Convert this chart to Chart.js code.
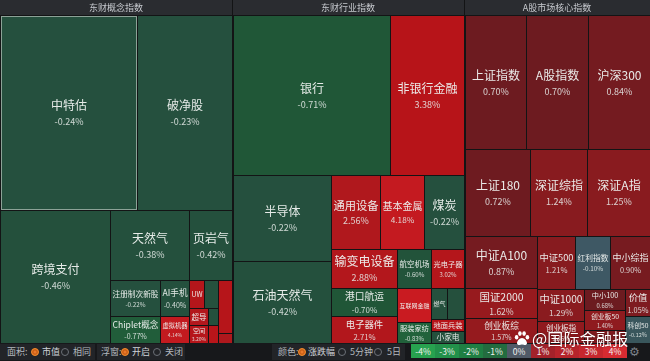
<!DOCTYPE html>
<html><head><meta charset="utf-8">
<script src="https://cdn.jsdelivr.net/npm/chart.js@4/dist/chart.umd.min.js"></script>
<style>
html,body{margin:0;padding:0;background:#141516;width:650px;height:361px;overflow:hidden;font-family:"Noto Sans CJK SC","Noto Sans",sans-serif;}
#wrap{position:absolute;left:0;top:0;width:650px;height:343px;}
#bar{position:absolute;left:0;top:343px;width:650px;height:18px;background:#17181b;}
.box{position:absolute;top:1px;height:16px;background:#222428;}
.t{position:absolute;top:0;line-height:18px;font-size:9px;color:#b3b8be;white-space:nowrap;}
.r{position:absolute;top:5px;width:6px;height:6px;border-radius:50%;border:1px solid #6b7077;box-sizing:content-box;}
.r.on{border:1px solid #f08a2c;background:#e9782a;box-shadow:inset 0 0 0 1.5px #c95f17;}
#legend{position:absolute;top:1px;height:14px;display:flex;}
#legend span{display:block;width:24px;height:14px;line-height:14px;text-align:center;font-size:8.5px;color:#f2f2f2;}
.gear{position:absolute;left:629px;top:0;line-height:18px;font-size:12px;color:#7d8289;font-family:"DejaVu Sans",sans-serif;}
#wm{position:absolute;left:514px;top:328px;height:20px;display:flex;align-items:center;pointer-events:none;}
#wm span{font-size:16px;line-height:20px;color:#ffffff;margin-left:2px;text-shadow:0 0 2px rgba(0,0,0,0.55);letter-spacing:0.2px;}
</style></head>
<body>
<div id="wrap"><canvas id="c" width="650" height="343"></canvas></div>
<div id="bar">
 <div class="box" style="left:0;width:95px"></div>
 <div class="box" style="left:97px;width:88px"></div>
 <div class="box" style="left:272px;width:133px"></div>
 <span class="t" style="left:7px">面积:</span>
 <i class="r on" style="left:31px"></i><span class="t" style="left:42px;color:#cfd3d8">市值</span>
 <i class="r" style="left:61px"></i><span class="t" style="left:73px">相同</span>
 <span class="t" style="left:101px">浮窗:</span>
 <i class="r on" style="left:121px"></i><span class="t" style="left:132px;color:#cfd3d8">开启</span>
 <i class="r" style="left:153px"></i><span class="t" style="left:165px">关闭</span>
 <span class="t" style="left:278px">颜色:</span>
 <i class="r on" style="left:298px"></i><span class="t" style="left:308px;color:#cfd3d8">涨跌幅</span>
 <i class="r" style="left:338px"></i><span class="t" style="left:350px">5分钟</span>
 <i class="r" style="left:374px"></i><span class="t" style="left:387px">5日</span>
 <div id="legend" style="left:411px"></div>
 <span class="gear">⚙</span>
</div>
<div id="wm">
 <svg width="16" height="15" viewBox="0 0 16 15"><g fill="#fff"><ellipse cx="2.6" cy="6.2" rx="1.8" ry="2.2"/><ellipse cx="5.9" cy="2.6" rx="1.8" ry="2.3"/><ellipse cx="10.1" cy="2.6" rx="1.8" ry="2.3"/><ellipse cx="13.4" cy="6.2" rx="1.8" ry="2.2"/><path d="M8 7c-2.5 0-5 3-5 5 0 1.8 1.6 2.3 2.8 2 1-.3 1.4-.5 2.2-.5s1.2.2 2.2.5c1.2.3 2.8-.2 2.8-2 0-2-2.5-5-5-5z"/></g></svg>
 <span>@国际金融报</span>
</div>
<script>
// ---------- data ----------
const panelTitles = ['东财概念指数', '东财行业指数', 'A股市场核心指数'];

const names = [
  '中特估','破净股','跨境支付','天然气','页岩气','注册制次新股','Chiplet概念','AI手机','虚拟机器',
  'UW','','超导','','空间','','','',
  '银行','非银行金融','半导体','石油天然气','通用设备','基本金属','煤炭','输变电设备','港口航运','电子器件',
  '航空机场','互联网金融','服装家纺','光电子器','燃气','','地面兵装','小家电',
  '上证指数','A股指数','沪深300','上证180','深证综指','深证A指','中证A100','国证2000','创业板综',
  '中证500','红利指数','中小综指','中证1000','创业板指','中小100','创业板50','','价值','科创50'
];

const changes = [
  -0.24,-0.23,-0.46,-0.38,-0.42,-0.22,-0.77,-0.40,4.14,
  3.00,-0.35,2.80,-0.30,3.20,3.50,3.30,2.50,
  -0.71,3.38,-0.22,-0.42,2.56,4.18,-0.22,2.88,-0.70,2.71,
  -0.60,4.62,-0.83,3.02,-0.35,-0.30,3.40,-0.50,
  0.70,0.70,0.84,0.72,1.24,1.25,0.87,1.62,1.57,
  1.21,-0.10,0.90,1.29,1.45,0.68,1.40,1.10,1.05,-0.12
];

// area weights (market value)
const caps = [
  26715,18525,14630,5530,3010,1800,1350,1044,783,
  420,392,323,170,342,180,742,140,
  25120,11840,8428,8036,3626,3256,2960,2574,1848,1782,
  1326,1156,714,1287,496,527,396,396,
  8308,8308,8308,5742,4959,5481,3796,2190,1825,
  2014,1855,2120,1504,1034,861,820,533,675,675
];

// nesting of each cell (group indices, last = position in its group)
const paths = [
  '0.0.0','0.0.1','0.1.0','0.1.1.0.0','0.1.1.0.1','0.1.1.1.0.0','0.1.1.1.0.1','0.1.1.1.1.0','0.1.1.1.1.1',
  '0.1.1.1.2.0.0','0.1.1.1.2.0.1','0.1.1.1.2.1.0','0.1.1.1.2.1.1','0.1.1.1.2.2.0','0.1.1.1.2.2.1','0.1.1.1.3.0','0.1.1.1.3.1',
  '1.0.0','1.0.1','1.1.0.0','1.1.0.1','1.1.1.0.0','1.1.1.0.1','1.1.1.0.2','1.1.1.1.0.0','1.1.1.1.0.1','1.1.1.1.0.2',
  '1.1.1.1.1.0','1.1.1.1.1.1','1.1.1.1.1.2','1.1.1.1.2.0','1.1.1.1.2.1.0','1.1.1.1.2.1.1','1.1.1.1.2.2','1.1.1.1.2.3',
  '2.0.0','2.0.1','2.0.2','2.1.0','2.1.1','2.1.2','2.2.0.0','2.2.0.1','2.2.0.2',
  '2.2.1.0.0','2.2.1.0.1','2.2.1.0.2','2.2.1.1.0.0','2.2.1.1.0.1','2.2.1.1.1.0','2.2.1.1.1.1','2.2.1.1.1.2','2.2.1.1.2.0','2.2.1.1.2.1'
];

const legendLabels = ['-4%','-3%','-2%','-1%','0%','1%','2%','3%','4%'];
const legendColors = ['#27a24f','#22914a','#1f7f43','#236c3f','#505a67','#a3222a','#b6242b','#c6272e','#d72b31'];
const hoverIndex = 0;

// ---------- legend ----------
const lg = document.getElementById('legend');
legendLabels.forEach((l, i) => {
  const s = document.createElement('span');
  s.textContent = l; s.style.background = legendColors[i];
  lg.appendChild(s);
});

// ---------- colours ----------
const stops = [
  [-5,[38,165,80]],[-2,[30,128,66]],[-1,[33,106,62]],[-0.8,[33,96,59]],[-0.7,[32,86,55]],
  [-0.5,[36,80,60]],[-0.2,[37,80,62]],[-0.1,[62,88,100]],[0,[68,76,86]],
  [0.5,[100,28,33]],[0.7,[109,27,32]],[0.87,[117,27,32]],[1.25,[137,27,31]],[1.6,[150,26,30]],
  [2.6,[177,24,29]],[3.4,[183,20,25]],[4.2,[196,26,32]],[5,[205,28,34]]
];
function colorFor(v){
  if (v <= stops[0][0]) return 'rgb(' + stops[0][1].join(',') + ')';
  for (let k = 1; k < stops.length; k++){
    if (v <= stops[k][0]){
      const [a, ca] = stops[k-1], [b, cb] = stops[k];
      const t = (v - a) / (b - a);
      return 'rgb(' + ca.map((c, j) => Math.round(c + (cb[j] - c) * t)).join(',') + ')';
    }
  }
  return 'rgb(' + stops[stops.length-1][1].join(',') + ')';
}

// ---------- treemap layout (slice and dice by nesting) ----------
function buildTree(){
  const root = {kids: []};
  paths.forEach((p, i) => {
    const parts = p.split('.').map(Number);
    let node = root;
    for (let d = 0; d < parts.length - 1; d++){
      const k = parts[d];
      if (!node.kids[k]) node.kids[k] = {kids: []};
      node = node.kids[k];
    }
    node.kids[parts[parts.length-1]] = {leaf: i};
  });
  (function sum(n){
    if (n.leaf !== undefined){ n.v = caps[n.leaf]; return n.v; }
    n.v = n.kids.reduce((a, c) => a + sum(c), 0); return n.v;
  })(root);
  return root;
}
function layout(n, x0, y0, x1, y1, d, out, panel, panels){
  if (n.leaf !== undefined){ out.push({i: n.leaf, x0, y0, x1, y1, panel}); return; }
  const horiz = d % 2 === 0;
  let pos = horiz ? x0 : y0;
  const span = horiz ? (x1 - x0) : (y1 - y0);
  n.kids.forEach((c, k) => {
    const len = span * c.v / n.v;
    const p = d === 0 ? k : panel;
    if (d === 0) panels.push({x0: pos, x1: pos + len});
    if (horiz) layout(c, pos, y0, pos + len, y1, d + 1, out, p, panels);
    else layout(c, x0, pos, x1, pos + len, d + 1, out, p, panels);
    pos += len;
  });
}
const tree = buildTree();
const cells = [], panels = [];
layout(tree, 0, 0, 1, 1, 0, cells, 0, panels);

const FONT = '"Noto Sans CJK SC","Noto Sans",sans-serif';
function fmt(v){ return v.toFixed(2) + '%'; }

const treemapPlugin = {
  id: 'treemap',
  beforeDraw(chart){
    const {ctx} = chart;
    ctx.save();
    ctx.fillStyle = '#131415';
    ctx.fillRect(0, 0, chart.width, chart.height);
    ctx.restore();
  },
  afterDatasetsDraw(chart){
    const {ctx, scales: {x, y}} = chart;
    const top = chart.chartArea.top;
    ctx.save();
    // headers
    panels.forEach((p, k) => {
      const X0 = Math.round(x.getPixelForValue(p.x0)), X1 = Math.round(x.getPixelForValue(p.x1));
      ctx.fillStyle = '#2a2c30';
      ctx.fillRect(X0 + (k > 0 ? 1 : 0), 0, X1 - X0 - (k > 0 ? 1 : 0), top);
      ctx.fillStyle = '#c6c9ce';
      ctx.font = '9px ' + FONT;
      ctx.textAlign = 'center'; ctx.textBaseline = 'middle';
      ctx.fillText(panelTitles[k], (X0 + X1) / 2, top / 2 + 0.5);
    });
    // cells
    cells.forEach(c => {
      const X0 = Math.round(x.getPixelForValue(c.x0)), X1 = Math.round(x.getPixelForValue(c.x1));
      const Y0 = Math.round(y.getPixelForValue(c.y0)), Y1 = Math.round(y.getPixelForValue(c.y1));
      let l = X0 + 1, t = Y0 + 1, w = X1 - X0 - 1, h = Y1 - Y0 - 1;
      if (c.panel > 0 && Math.abs(c.x0 - panels[c.panel].x0) < 1e-9){ l += 1; w -= 1; }
      ctx.fillStyle = colorFor(changes[c.i]);
      ctx.fillRect(l, t, w, h);
      if (c.i === hoverIndex){
        ctx.strokeStyle = 'rgba(175,190,182,0.75)'; ctx.lineWidth = 1;
        ctx.strokeRect(l + 0.5, t + 0.5, w - 1, h - 1);
      }
      const name = names[c.i];
      if (!name) return;
      const pct = fmt(changes[c.i]);
      ctx.font = '100px ' + FONT;
      const emN = ctx.measureText(name).width / 100;
      const emP = ctx.measureText(pct).width / 100;
      let fs = Math.min(12, (w - 3) / emN, h * 0.36);
      let pfs = Math.min(9, fs * 0.82, (w - 3) / emP);
      let two = pfs >= 5 && h >= fs * 1.1 + pfs * 1.05 + 2;
      if (!two) fs = Math.min(12, (w - 3) / emN, h * 0.7);
      if (fs < 4.5) return;
      const cx = l + w / 2, cy = t + h / 2;
      ctx.textAlign = 'center'; ctx.textBaseline = 'middle';
      if (two){
        const nH = fs * 1.1, pH = pfs * 1.05, gap = fs * 0.4;
        const tot = nH + gap + pH, tp = cy - tot / 2;
        ctx.font = fs.toFixed(2) + 'px ' + FONT;
        ctx.fillStyle = 'rgba(238,241,239,0.96)';
        ctx.fillText(name, cx, tp + nH / 2);
        ctx.font = pfs.toFixed(2) + 'px ' + FONT;
        ctx.fillStyle = 'rgba(232,236,234,0.86)';
        ctx.fillText(pct, cx, tp + nH + gap + pH / 2);
      } else {
        ctx.font = fs.toFixed(2) + 'px ' + FONT;
        ctx.fillStyle = 'rgba(238,241,239,0.96)';
        ctx.fillText(name, cx, cy);
      }
    });
    ctx.restore();
  }
};

new Chart(document.getElementById('c'), {
  type: 'scatter',
  data: {datasets: [{data: [], pointRadius: 0}]},
  options: {
    responsive: false,
    animation: false,
    events: [],
    layout: {padding: {top: 15, left: 0, right: 0, bottom: 0}},
    plugins: {legend: {display: false}, tooltip: {enabled: false}},
    scales: {
      x: {type: 'linear', min: 0, max: 1, display: false},
      y: {type: 'linear', min: 0, max: 1, reverse: true, display: false}
    }
  },
  plugins: [treemapPlugin]
});
</script>
</body></html>
